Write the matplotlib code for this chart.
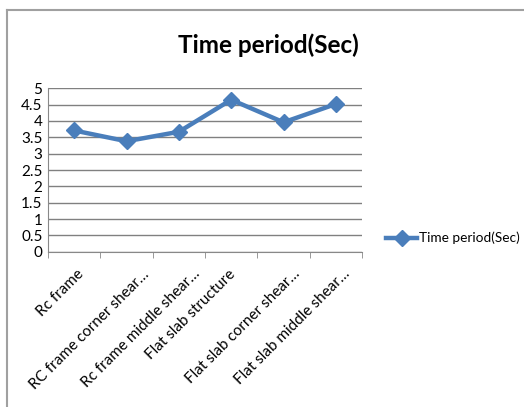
import matplotlib.pyplot as plt
import matplotlib.transforms as mtransforms
import numpy as np

categories = ["Rc frame", "RC frame corner shear…", "Rc frame middle shear…",
              "Flat slab structure", "Flat slab corner shear…", "Flat slab middle shear…"]
time_period = [3.71, 3.38, 3.67, 4.65, 3.96, 4.52]
y_ticks = [0, 0.5, 1, 1.5, 2, 2.5, 3, 3.5, 4, 4.5, 5]
y_labels = ["0", "0.5", "1", "1.5", "2", "2.5", "3", "3.5", "4", "4.5", "5"]

plt.rcParams['font.family'] = ['Lato', 'DejaVu Sans']

fig = plt.figure(figsize=(5.24, 4.07), dpi=100)
ax = fig.add_axes([0.0916, 0.3816, 0.5994, 0.4014])

x = np.arange(len(categories))
line, = ax.plot(x, time_period, color='#4A7EBB', linewidth=3.2, marker='D',
                markersize=8, label='Time period(Sec)', zorder=3)

ax.set_xlim(-0.5, len(categories) - 0.5)
ax.set_ylim(0, 5)
ax.set_yticks(y_ticks)
ax.set_yticklabels(y_labels, fontsize=11)
ax.set_xticks(x)
ax.set_xticklabels(categories, rotation=45, ha='right', rotation_mode='anchor', fontsize=11)
ax.set_xticks(np.arange(-0.5, len(categories)), minor=True)
ax.tick_params(axis='x', which='major', length=0, pad=11)
ax.tick_params(axis='x', which='minor', length=4, color='#888888', direction='out')
ax.tick_params(axis='y', length=0, pad=4)

# excel shifts the truncated labels a bit to the right
shift_px = [2, 16, 14, -3, 9, 7]
for lab, dx in zip(ax.get_xticklabels(), shift_px):
    lab.set_transform(lab.get_transform() +
                      mtransforms.ScaledTranslation(dx / 100, 0, fig.dpi_scale_trans))

ax.grid(axis='y', color='#808080', linewidth=1)
ax.set_axisbelow(True)
for s in ['top', 'right']:
    ax.spines[s].set_visible(False)
for s in ['left', 'bottom']:
    ax.spines[s].set_color('#888888')

fig.text(0.512, 0.888, 'Time period(Sec)', ha='center', va='center',
         fontsize=17.5, fontweight='bold')

fig.legend(handles=[line], loc='center left', bbox_to_anchor=(0.726, 0.415),
           frameon=False, fontsize=9.8, handlelength=2.3, handletextpad=0.1,
           borderaxespad=0)

# chart frame (top and left edges)
fig.add_artist(plt.Line2D([0.013, 1.0], [0.975, 0.975], color='#a0a0a0', linewidth=1.5))
fig.add_artist(plt.Line2D([0.013, 0.013], [0.0, 0.975], color='#a0a0a0', linewidth=1.5))

fig.savefig('out.png', dpi=100)
